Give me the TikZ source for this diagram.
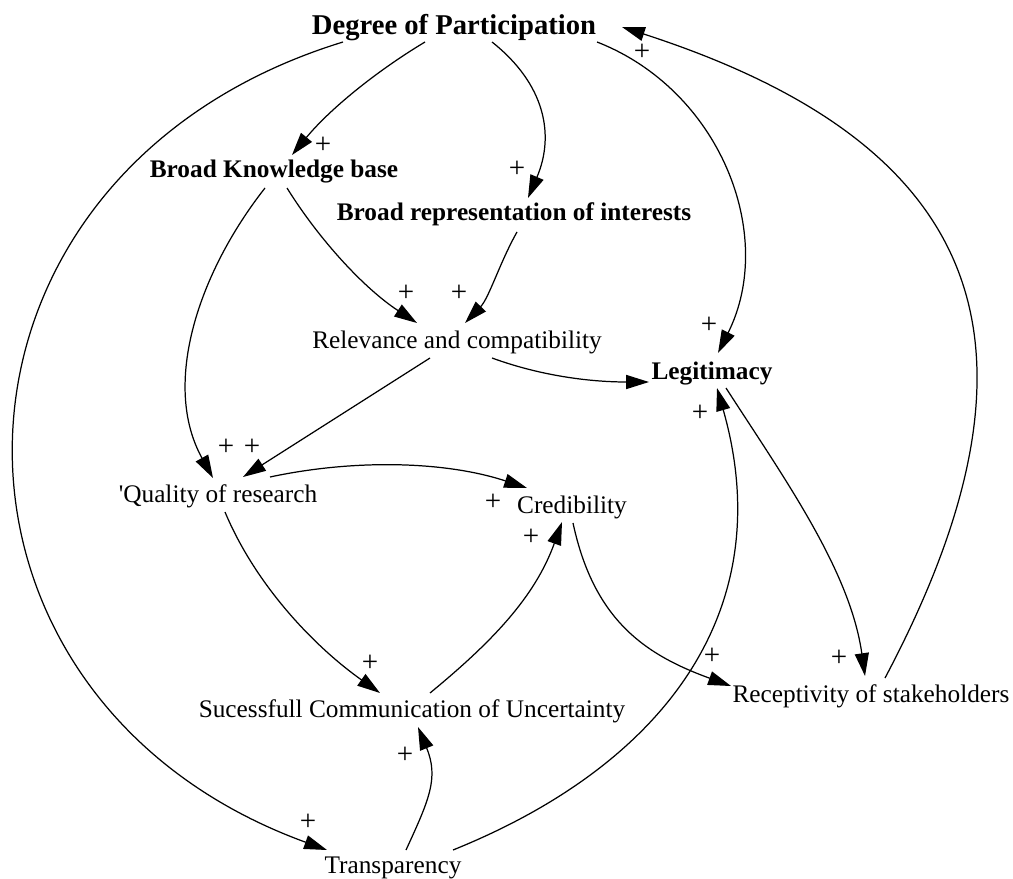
\documentclass[tikz,border=0pt]{standalone}
\usepackage{fontspec}
\setmainfont{Liberation Serif}
\usetikzlibrary{arrows.meta,calc}

\begin{document}
\begin{tikzpicture}[x=0.02cm, y=-0.02cm, font=\fontsize{14.4}{17}\selectfont,
    var/.style={inner sep=0pt, anchor=base},
    key/.style={var, font=\fontsize{14.4}{17}\selectfont\bfseries},
    link/.style={-{Triangle[length=13pt,width=8pt]}, line width=0.7pt},
    sign/.style={inner sep=0pt, font=\fontsize{16.5}{19}\selectfont}]
  \useasboundingbox (0,0) rectangle (1013,878);
  % The variables, each set on its base line.
  \node[key, font=\fontsize{16.3}{19}\selectfont\bfseries] (deg) at (454,35) {Degree of Participation};
  \node[key] (bkb) at (274,178) {Broad Knowledge base};
  \node[key] (bri) at (514,221) {Broad representation of interests};
  \node[var] (rel) at (457,348) {Relevance and compatibility};
  \node[key] (leg) at (712,379) {Legitimacy};
  \node[var] (qual) at (218,502) {\textquotesingle Quality of research};
  \node[var] (cred) at (572,513) {Credibility};
  \node[var] (comm) at (412,717) {Sucessfull Communication of Uncertainty};
  \node[var] (rec) at (871,702) {Receptivity of stakeholders};
  \node[var] (tra) at (393,873) {Transparency};
  % Links out of the degree of participation.
  \draw[link] ($(deg.base)+(-29,7)$) .. controls (375,72) and (329,110) .. ($(bkb.base)+(18,-23)$);
  \draw[link] ($(deg.base)+(38,7)$) .. controls (545,84) and (555,135) .. ($(bri.base)+(14,-23)$);
  \draw[link] ($(deg.base)+(143,7)$) .. controls (720,90) and (777,235) .. ($(leg.base)+(6,-26)$);
  \draw[link] ($(deg.base)+(-111,7)$) .. controls (-87,174) and (-96,696) .. ($(tra.base)+(-66,-23)$);
  \draw[link] ($(rec.base)+(14,-24)$) .. controls (1063,342) and (983,144) .. ($(deg.base)+(168,-8)$);
  % The upper part of the loop.
  \draw[link] ($(bkb.base)+(-9,10)$) .. controls (199,272) and (161,384) .. ($(qual.base)+(-5,-24)$);
  \draw[link] ($(bkb.base)+(13,10)$) .. controls (320,241) and (365,289) .. ($(rel.base)+(-40,-25)$);
  \draw[link] ($(bri.base)+(3,11)$) .. controls (500,262) and (489,298) .. ($(rel.base)+(8,-25)$);
  \draw[link] ($(rel.base)+(-27,10)$) -- ($(qual.base)+(25,-25)$);
  \draw[link] ($(rel.base)+(35,10)$) .. controls (544,377) and (594,382) .. ($(leg.base)+(-63,3)$);
  % The lower part of the loop.
  \draw[link] ($(qual.base)+(52,-25)$) .. controls (354,459) and (445,461) .. ($(cred.base)+(-45,-25)$);
  \draw[link] ($(qual.base)+(7,10)$) .. controls (256,586) and (315,647) .. ($(comm.base)+(-32,-24)$);
  \draw[link] ($(comm.base)+(18,-24)$) .. controls (492,642) and (535,597) .. ($(cred.base)+(-10,9)$);
  \draw[link] ($(cred.base)+(1,10)$) .. controls (594,621) and (646,655) .. ($(rec.base)+(-140,-16)$);
  \draw[link] ($(leg.base)+(14,9)$) .. controls (784,478) and (850,570) .. ($(rec.base)+(-6,-26)$);
  \draw[link] ($(tra.base)+(60,-23)$) .. controls (666,764) and (780,609) .. ($(leg.base)+(5,9)$);
  \draw[link] ($(tra.base)+(13,-23)$) .. controls (429,800) and (439,778) .. ($(comm.base)+(6,10)$);
  % The polarity of every link.
  \foreach \p [count=\i] in {(642,52),(323,145),(517,169),(406,293),(459,293),(709,325),
      (700,413),(226,447),(252,447),(493,502),(531,537),(370,663),(712,656),(839,658),
      (405,755),(308,822)}
    \node[sign] (plus\i) at \p {+};
\end{tikzpicture}
\end{document}
